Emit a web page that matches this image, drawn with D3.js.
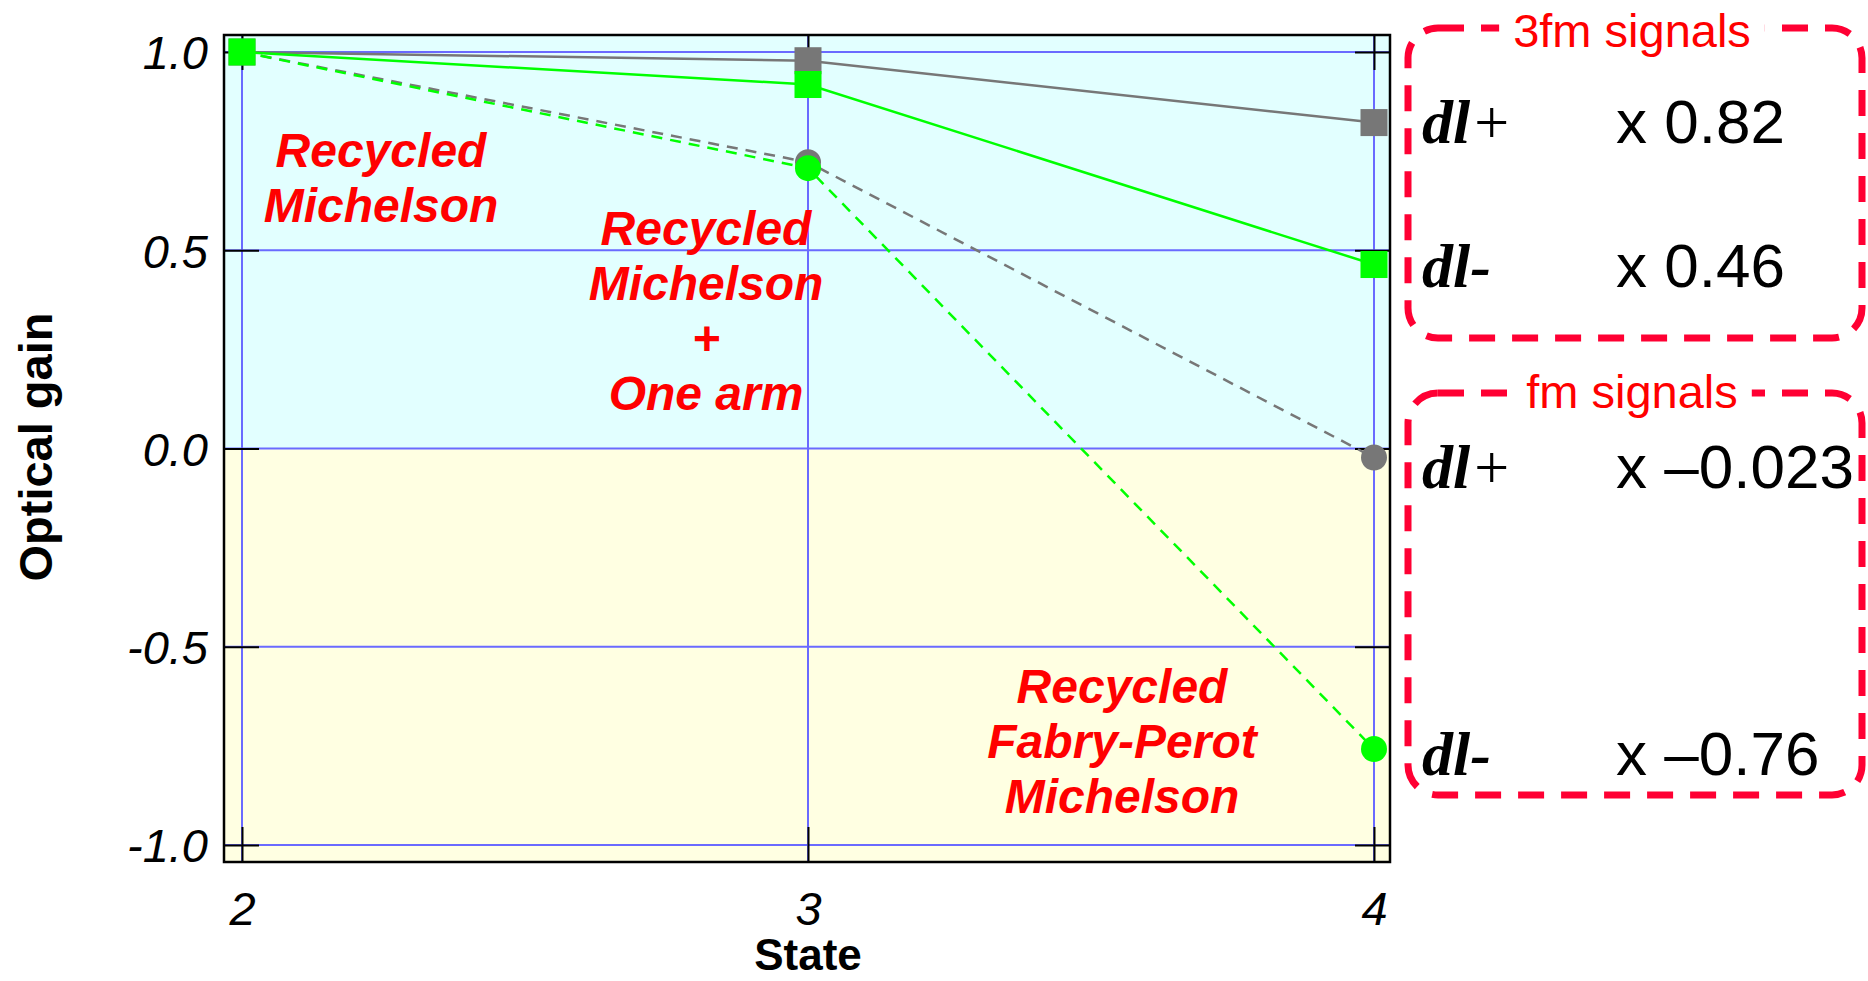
<!DOCTYPE html>
<html>
<head>
<meta charset="utf-8">
<script src="https://cdn.jsdelivr.net/npm/d3@7"></script>
<style>
  html, body { margin: 0; padding: 0; background: #fff; }
  #chart { width: 1868px; height: 981px; }
</style>
</head>
<body>
<div id="chart"></div>
<script>
// Data
const states = [2, 3, 4];
const xTicks = [2, 3, 4];
const yTicks = [-1.0, -0.5, 0.0, 0.5, 1.0];
const grey3fm = [1.0, 0.978, 0.822];   // dl+ 3fm (solid, squares)
const green3fm = [1.0, 0.918, 0.464];  // dl- 3fm (solid, squares)
const greyFm = [1.0, 0.722, -0.023];   // dl+ fm (dashed, circles)
const greenFm = [1.0, 0.707, -0.758];  // dl- fm (dashed, circles)
const box3fmRows = [['dl', '+', 'x 0.82'], ['dl', '-', 'x 0.46']];
const boxFmRows = [['dl', '+', 'x \u20130.023'], ['dl', '-', 'x \u20130.76']];

const W = 1868, H = 981;
const frame = { left: 224, right: 1390, top: 35, bottom: 862 };

const svg = d3.select('#chart')
    .append('svg')
    .attr('width', W)
    .attr('height', H)
    .attr('viewBox', `0 0 ${W} ${H}`);

// Scales
const xScale = d3.scaleLinear().domain([2, 4]).range([242, 1374]);
const yScale = d3.scaleLinear().domain([-1, 1]).range([845, 52]);

// Background bands
svg.append('rect')
    .attr('x', frame.left).attr('y', frame.top)
    .attr('width', frame.right - frame.left)
    .attr('height', yScale(0) - frame.top)
    .attr('fill', '#e2ffff');
svg.append('rect')
    .attr('x', frame.left).attr('y', yScale(0))
    .attr('width', frame.right - frame.left)
    .attr('height', frame.bottom - yScale(0))
    .attr('fill', '#ffffe2');

// Grid lines
svg.append('g')
    .selectAll('line')
    .data(yTicks)
    .enter()
    .append('line')
    .attr('x1', frame.left).attr('x2', frame.right)
    .attr('y1', d => yScale(d)).attr('y2', d => yScale(d))
    .attr('stroke', '#6a6aff')
    .attr('stroke-width', 2);
svg.append('g')
    .selectAll('line')
    .data(xTicks)
    .enter()
    .append('line')
    .attr('x1', d => xScale(d)).attr('x2', d => xScale(d))
    .attr('y1', frame.top).attr('y2', frame.bottom)
    .attr('stroke', '#6a6aff')
    .attr('stroke-width', 2);

// Axes (ticks inward on all four sides)
const tickLen = 35;
const yAxisL = svg.append('g')
    .attr('transform', `translate(${frame.left},0)`)
    .call(d3.axisLeft(yScale).tickValues(yTicks).tickSizeInner(-tickLen).tickSizeOuter(0)
        .tickPadding(16).tickFormat(d => d.toFixed(1)));
const yAxisR = svg.append('g')
    .attr('transform', `translate(${frame.right},0)`)
    .call(d3.axisRight(yScale).tickValues(yTicks).tickSizeInner(-tickLen).tickSizeOuter(0)
        .tickFormat(''));
const xAxisB = svg.append('g')
    .attr('transform', `translate(0,${frame.bottom})`)
    .call(d3.axisBottom(xScale).tickValues(xTicks).tickSizeInner(-tickLen).tickSizeOuter(0)
        .tickPadding(29).tickFormat(d3.format('d')));
const xAxisT = svg.append('g')
    .attr('transform', `translate(0,${frame.top})`)
    .call(d3.axisTop(xScale).tickValues(xTicks).tickSizeInner(-tickLen).tickSizeOuter(0)
        .tickFormat(''));

[yAxisL, yAxisR, xAxisB, xAxisT].forEach(a => {
    a.select('.domain').remove();
    a.selectAll('line').attr('stroke', '#000').attr('stroke-width', 2);
    a.selectAll('text')
        .attr('fill', '#000')
        .style('font-family', '"Liberation Sans", Arial, sans-serif')
        .style('font-style', 'italic')
        .style('font-size', '47px');
});
yAxisL.selectAll('text').attr('dy', '0.36em');
xAxisB.selectAll('text').attr('dy', '0.72em');

// Frame
svg.append('rect')
    .attr('x', frame.left).attr('y', frame.top)
    .attr('width', frame.right - frame.left)
    .attr('height', frame.bottom - frame.top)
    .attr('fill', 'none')
    .attr('stroke', '#000')
    .attr('stroke-width', 2.5);

// Axis labels
svg.append('text')
    .attr('x', xScale(3))
    .attr('y', 970)
    .attr('text-anchor', 'middle')
    .style('font-family', '"Liberation Sans", Arial, sans-serif')
    .style('font-weight', 'bold')
    .style('font-size', '44px')
    .text('State');
svg.append('text')
    .attr('transform', 'translate(52,447) rotate(-90)')
    .attr('text-anchor', 'middle')
    .style('font-family', '"Liberation Sans", Arial, sans-serif')
    .style('font-weight', 'bold')
    .style('font-size', '47px')
    .text('Optical gain');

// Series
const series = [
    { values: greyFm, color: '#777777', dash: '11,8', marker: 'circle' },
    { values: greenFm, color: '#00ff00', dash: '11,8', marker: 'circle' },
    { values: grey3fm, color: '#777777', dash: null, marker: 'square' },
    { values: green3fm, color: '#00ff00', dash: null, marker: 'square' }
];

const line = d3.line()
    .x(d => xScale(d[0]))
    .y(d => yScale(d[1]));

series.forEach(s => {
    const pts = states.map((st, i) => [st, s.values[i]]);
    svg.append('path')
        .datum(pts)
        .attr('fill', 'none')
        .attr('stroke', s.color)
        .attr('stroke-width', 2.5)
        .attr('stroke-dasharray', s.dash)
        .attr('d', line);
    if (s.marker === 'circle') {
        svg.append('g').selectAll('circle')
            .data(pts)
            .enter()
            .append('circle')
            .attr('cx', d => xScale(d[0]))
            .attr('cy', d => yScale(d[1]))
            .attr('r', 13)
            .attr('fill', s.color);
    } else {
        svg.append('g').selectAll('rect')
            .data(pts)
            .enter()
            .append('rect')
            .attr('x', d => xScale(d[0]) - 13.5)
            .attr('y', d => yScale(d[1]) - 13.5)
            .attr('width', 27)
            .attr('height', 27)
            .attr('fill', s.color);
    }
});

// Red annotations inside the plot
const annotations = [
    { x: 381, y: 167, lines: ['Recycled', 'Michelson'] },
    { x: 706, y: 245, lines: ['Recycled', 'Michelson', '+', 'One arm'] },
    { x: 1122, y: 703, lines: ['Recycled', 'Fabry-Perot', 'Michelson'] }
];
annotations.forEach(a => {
    const t = svg.append('text')
        .attr('text-anchor', 'middle')
        .attr('fill', '#ff0000')
        .style('font-family', '"Liberation Sans", Arial, sans-serif')
        .style('font-weight', 'bold')
        .style('font-style', 'italic')
        .style('font-size', '48px');
    a.lines.forEach((ln, i) => {
        t.append('tspan')
            .attr('x', a.x)
            .attr('y', a.y + i * 55)
            .text(ln);
    });
});

// Signal boxes on the right
const boxes = [
    { title: '3fm signals', top: 28, bottom: 338, rows: box3fmRows, rowY: [143, 287], titleY: 47 },
    { title: 'fm signals', top: 393, bottom: 795, rows: boxFmRows, rowY: [488, 775], titleY: 408 }
];
const boxLeft = 1408, boxRight = 1862;
boxes.forEach(b => {
    svg.append('rect')
        .attr('x', boxLeft).attr('y', b.top)
        .attr('width', boxRight - boxLeft)
        .attr('height', b.bottom - b.top)
        .attr('rx', 30).attr('ry', 30)
        .attr('fill', 'none')
        .attr('stroke', '#ff0033')
        .attr('stroke-width', 7)
        .attr('stroke-dasharray', '26,17');

    const title = svg.append('text')
        .attr('x', 1632)
        .attr('y', b.titleY)
        .attr('text-anchor', 'middle')
        .attr('fill', '#ff0000')
        .style('font-family', '"Liberation Sans", Arial, sans-serif')
        .style('font-size', '47px')
        .text(b.title);
    const bb = title.node().getBBox();
    svg.insert('rect', () => title.node())
        .attr('x', bb.x - 14).attr('y', b.top - 8)
        .attr('width', bb.width + 28).attr('height', 16)
        .attr('fill', '#fff');

    b.rows.forEach((r, i) => {
        const t = svg.append('text')
            .attr('x', 1422)
            .attr('y', b.rowY[i])
            .attr('fill', '#000')
            .style('font-family', '"Liberation Serif", "Times New Roman", serif')
            .style('font-size', '62px');
        t.append('tspan')
            .style('font-weight', 'bold')
            .style('font-style', 'italic')
            .text(r[0]);
        t.append('tspan')
            .style('font-weight', r[1] === '+' ? 'normal' : 'bold')
            .style('font-style', 'italic')
            .text(r[1]);
        svg.append('text')
            .attr('x', 1616)
            .attr('y', b.rowY[i])
            .attr('fill', '#000')
            .style('font-family', '"Liberation Sans", Arial, sans-serif')
            .style('font-size', '62px')
            .text(r[2]);
    });
});
</script>
</body>
</html>
